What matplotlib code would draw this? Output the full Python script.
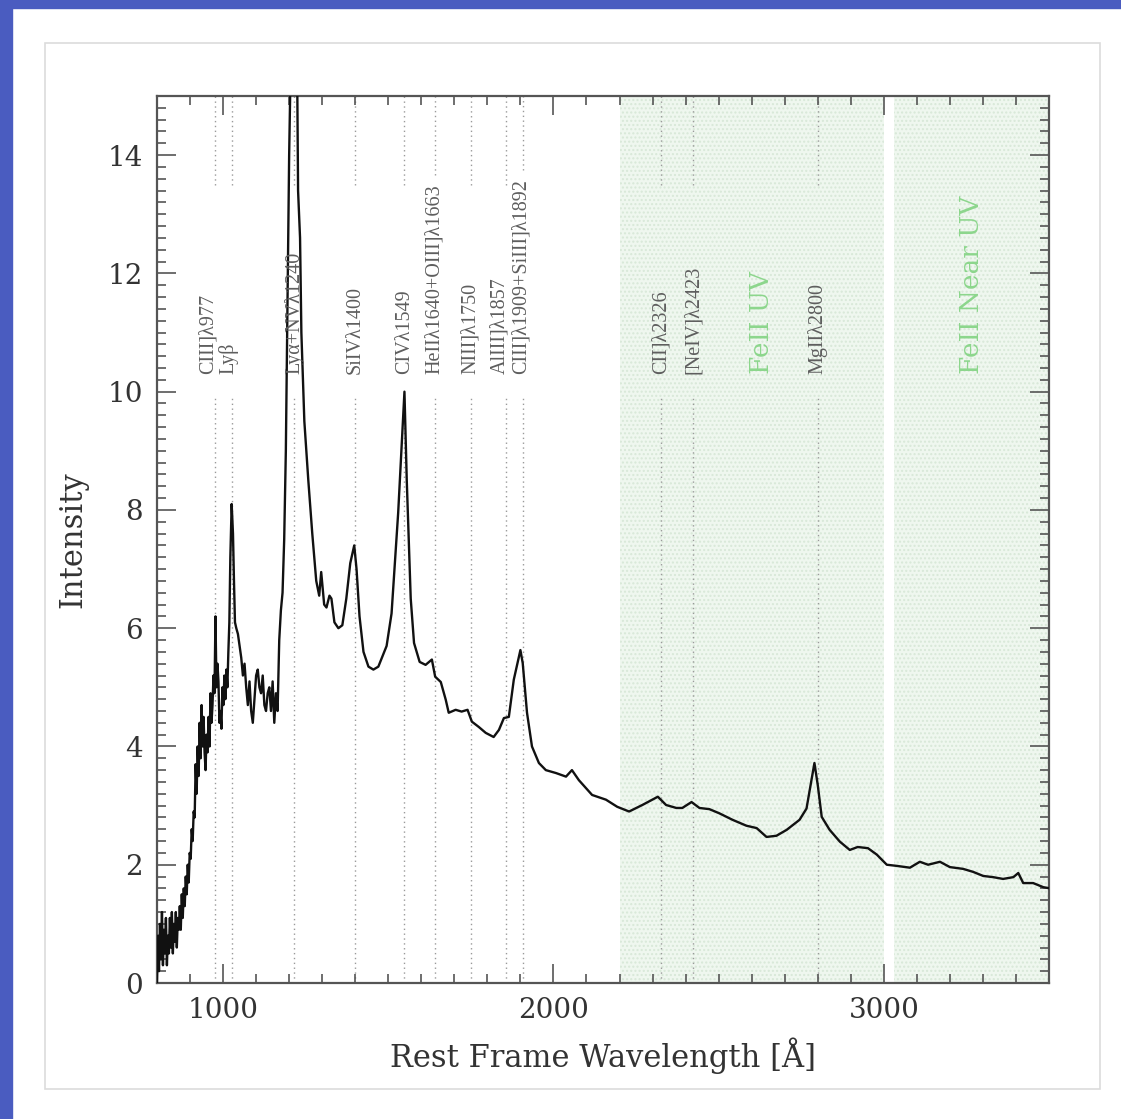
import matplotlib.pyplot as plt
from matplotlib.patches import Rectangle
from matplotlib.ticker import MultipleLocator
import matplotlib.transforms as mtransforms

plt.rcParams['font.family'] = 'DejaVu Serif'

# composite spectrum: rest wavelength [A] and intensity
wave = [800, 803, 806, 809, 812, 815, 818, 821, 824, 827, 830, 833, 836, 839,
        842, 845, 848, 851, 854, 857, 860, 863, 866, 869, 872, 875, 878, 881,
        884, 887, 890, 893, 896, 899, 902, 905, 908, 911, 914, 917, 920, 923,
        926, 929, 932, 935, 938, 941, 944, 947, 950, 953, 956, 959, 962, 965,
        968, 971, 974, 977, 980, 983, 986, 989, 992, 995, 998, 1001, 1004,
        1007, 1010, 1013, 1016, 1019, 1022, 1026, 1030, 1033,
        1036, 1040, 1045, 1050, 1055, 1060, 1065, 1070, 1075, 1080, 1085, 1090,
        1095, 1100, 1105, 1110, 1115, 1120, 1125, 1130, 1135, 1140, 1145, 1150,
        1155, 1160, 1165, 1170, 1175, 1180, 1185, 1190, 1195, 1200, 1206, 1212,
        1216, 1220, 1224, 1227, 1230, 1233, 1237, 1246, 1258, 1270, 1282, 1291,
        1297, 1306, 1313, 1322, 1328, 1337, 1349, 1361, 1373, 1385, 1397, 1404,
        1413, 1425, 1440, 1455, 1470, 1495, 1510, 1530, 1549, 1556, 1568, 1578,
        1595, 1613, 1632, 1642, 1659, 1674, 1683, 1704, 1722, 1740, 1753, 1774,
        1795, 1819, 1835, 1850, 1865, 1880, 1900, 1907, 1920, 1935, 1956, 1977,
        2008, 2038, 2056, 2077, 2117, 2159, 2193, 2229, 2269, 2316, 2341, 2372,
        2390, 2418, 2442, 2472, 2502, 2542, 2584, 2615, 2645, 2675, 2706, 2745,
        2766, 2790, 2800, 2812, 2836, 2867, 2897, 2921, 2952, 2979, 3009, 3040,
        3079, 3109, 3134, 3170, 3200, 3240, 3270, 3301, 3331, 3361, 3392, 3407,
        3422, 3452, 3483, 3504]
flux = [0.0, 0.8, 0.2, 1.0, 0.4, 1.2, 0.3, 0.9, 0.5, 1.1, 0.3, 0.8, 0.5, 1.1,
        0.6, 1.2, 0.5, 1.0, 0.7, 1.2, 0.6, 1.1, 0.9, 1.3, 0.9, 1.5, 1.1, 1.6,
        1.3, 1.8, 1.5, 2.0, 1.7, 2.2, 2.1, 2.6, 2.4, 2.9, 2.8, 3.7, 3.2, 4.0,
        3.5, 4.4, 3.8, 4.7, 4.0, 4.5, 3.9, 3.6, 4.2, 3.9, 4.5, 4.0, 4.9, 4.4,
        4.7, 5.2, 4.9, 6.2, 5.0, 5.4, 5.1, 4.4, 4.6, 4.3, 5.0, 4.7, 5.2,
        4.8, 5.3, 5.0, 5.6, 6.1, 7.2, 8.1, 7.6, 6.8,
        6.1, 6.0, 5.9, 5.7, 5.5, 5.2, 5.4, 5.0, 4.7, 5.1, 4.6, 4.4,
        4.8, 5.2, 5.3, 5.0, 4.9, 5.2, 4.7, 4.6, 4.9, 5.0, 4.6, 5.1,
        4.4, 4.9, 4.6, 5.8, 6.3, 6.6, 7.5, 9.0, 11.5, 14.0, 16.0, 18.0,
        18.5, 17.0, 15.6, 13.4, 13.0, 12.6, 11.0, 9.5, 8.5, 7.6, 6.8, 6.55,
        6.95, 6.4, 6.35, 6.55, 6.5, 6.1, 6.0, 6.05, 6.5, 7.1, 7.4, 7.0,
        6.2, 5.6, 5.35, 5.3, 5.35, 5.7, 6.25, 7.95, 10.0, 8.5, 6.5, 5.75,
        5.43, 5.38, 5.47, 5.18, 5.09, 4.79, 4.57, 4.62, 4.59, 4.62, 4.42, 4.33,
        4.23, 4.16, 4.28, 4.48, 4.5, 5.13, 5.63, 5.41, 4.57, 4.0, 3.72, 3.6,
        3.55, 3.49, 3.6, 3.43, 3.18, 3.1, 2.98, 2.9, 3.01, 3.15, 3.01, 2.96,
        2.96, 3.06, 2.96, 2.94, 2.87, 2.76, 2.66, 2.62, 2.47, 2.49, 2.59, 2.76,
        2.95, 3.72, 3.35, 2.81, 2.59, 2.39, 2.25, 2.3, 2.28, 2.17, 2.0, 1.98,
        1.95, 2.05, 2.0, 2.05, 1.96, 1.93, 1.88, 1.81, 1.79, 1.76, 1.79, 1.86,
        1.69, 1.69, 1.62, 1.6]

# emission line identifications
line_wave = [977, 1026, 1216, 1400, 1549, 1640, 1750, 1857, 1909, 2326, 2423, 2800]
line_names = ['CIII]λ977', 'Lyβ', 'Lyα+NVλ1240', 'SiIVλ1400', 'CIVλ1549',
              'HeIIλ1640+OIII]λ1663', 'NIII]λ1750', 'AlIII]λ1857',
              'CIII]λ1909+SiIII]λ1892', 'CII]λ2326', '[NeIV]λ2423', 'MgIIλ2800']

# FeII pseudo-continuum windows
feii_lo = [2200, 3030]
feii_hi = [3000, 3500]
feii_names = ['FeII UV', 'FeII Near UV']

fig = plt.figure(figsize=(11.21, 11.19), dpi=100)
W, H = 1121, 1119

# slide frame
fig.patches.append(Rectangle((0, 0), 12 / W, 1, transform=fig.transFigure,
                             color='#4a5cc0', zorder=0))
fig.patches.append(Rectangle((0, 1 - 8 / H), 1, 8 / H, transform=fig.transFigure,
                             color='#4a5cc0', zorder=0))
fig.patches.append(Rectangle((45 / W, 1 - 1089 / H), 1055 / W, 1046 / H,
                             transform=fig.transFigure, fill=False,
                             ec='#dcdcdc', lw=1.2, zorder=0))

ax = fig.add_axes([157 / W, 1 - 983 / H, 892 / W, 887 / H])
ax.set_xlim(800, 3500)
ax.set_ylim(0, 15)

for lo, hi in zip(feii_lo, feii_hi):
    ax.axvspan(lo, hi, facecolor='#eff7ef', edgecolor='#d8e8d8', hatch='....',
               lw=0, zorder=0)

ax.plot(wave, flux, color='#111111', lw=1.7, zorder=3)

# line labels; the two stacked pairs are pushed apart
nudge = {'CIII]λ977': -7, 'Lyβ': -3, 'AlIII]λ1857': -6, 'CIII]λ1909+SiIII]λ1892': -2}
texts = []
for w, name in zip(line_wave, line_names):
    tr = mtransforms.offset_copy(ax.transData, fig=fig, x=nudge.get(name, 0),
                                 y=0, units='dots')
    t = ax.text(w, 10.3, name, transform=tr, rotation=90, rotation_mode='anchor',
                ha='left', va='center', fontsize=14.5, color='#5e5e5e',
                family='Liberation Serif', zorder=4)
    texts.append(t)

feii_nudge = [10, 0]
for lo, hi, name, dx in zip(feii_lo, feii_hi, feii_names, feii_nudge):
    tr = mtransforms.offset_copy(ax.transData, fig=fig, x=dx, y=0, units='dots')
    ax.text((lo + hi) / 2, 10.3, name, transform=tr, rotation=90,
            rotation_mode='anchor', ha='left', va='center', fontsize=19,
            color='#8cd68c', zorder=4)

# dotted markers broken around their labels
fig.canvas.draw()
renderer = fig.canvas.get_renderer()
for w, t in zip(line_wave, texts):
    bb = t.get_window_extent(renderer).transformed(ax.transData.inverted())
    top = max(13.5, bb.y1 + 0.15)
    ax.vlines(w, top, 15, colors='#9a9a9a', linestyles=(0, (1, 2.5)), lw=1.0, zorder=1)
    ax.vlines(w, 0, 9.95, colors='#9a9a9a', linestyles=(0, (1, 2.5)), lw=1.0, zorder=1)

ax.xaxis.set_major_locator(MultipleLocator(1000))
ax.xaxis.set_minor_locator(MultipleLocator(100))
ax.yaxis.set_major_locator(MultipleLocator(2))
ax.yaxis.set_minor_locator(MultipleLocator(0.2))
ax.tick_params(which='both', direction='in', top=True, right=True,
               colors='#555555', width=1.2)
ax.tick_params(which='major', length=14, labelsize=20, labelcolor='#333333', pad=10)
ax.tick_params(which='minor', length=6.5)
for s in ax.spines.values():
    s.set_color('#555555')
    s.set_linewidth(1.6)

ax.set_xlabel('Rest Frame Wavelength [Å]', fontsize=22, color='#333333', labelpad=10)
ax.set_ylabel('Intensity', fontsize=22, color='#333333', labelpad=14)

fig.savefig('out.png', dpi=100)
